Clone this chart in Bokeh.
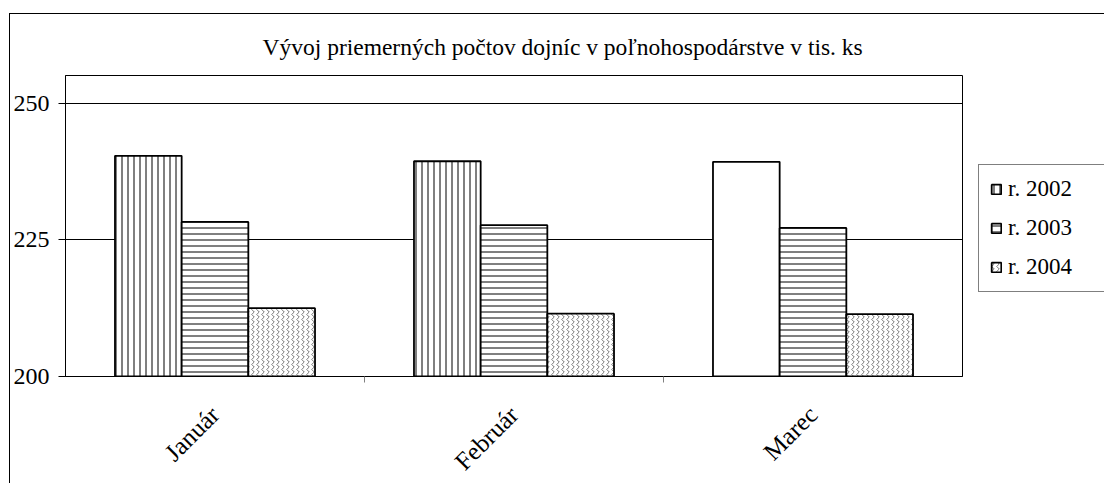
import math
from bokeh.plotting import figure
from bokeh.models import (ColumnDataSource, FactorRange, Range1d, LinearAxis, CategoricalAxis,
                          FixedTicker, Legend, LegendItem, Title)
from bokeh.transform import dodge
from bokeh.embed import file_html
from bokeh.resources import INLINE

months = ["Január", "Február", "Marec"]
series_names = ["r. 2002", "r. 2003", "r. 2004"]
v2002 = [240.4, 239.4, 239.3]
v2003 = [228.3, 227.7, 227.2]
v2004 = [212.5, 211.5, 211.4]
y_ticks = [200, 225, 250]
title_text = "Vývoj priemerných počtov dojníc v poľnohospodárstve v tis. ks"

# style: hatch per bar for r. 2002 (Marec drawn without pattern in the original)
hatch_2002 = ["|", "|", " "]

FONT = "Liberation Serif"

src = ColumnDataSource(dict(month=months, v2002=v2002, v2003=v2003, v2004=v2004,
                            h2002=hatch_2002))

p = figure(frame_width=897, frame_height=301, x_range=FactorRange(*months), y_range=Range1d(200, 255.1),
           output_backend="svg", toolbar_location=None, x_axis_location=None, y_axis_location=None,
           min_border_left=54, min_border_right=143, min_border_top=61, min_border_bottom=107)
p.margin = (13, 0, 0, 9)
p.styles = {"border-left": "1px solid black", "border-top": "1px solid black"}

p.outline_line_color = "black"
p.outline_line_width = 1
p.background_fill_color = "white"
p.border_fill_color = "white"

# grid
p.xgrid.grid_line_color = None
p.ygrid.grid_line_color = "black"
p.ygrid.ticker = FixedTicker(ticks=y_ticks[1:])

# y axis
yaxis = LinearAxis(ticker=FixedTicker(ticks=y_ticks))
yaxis.axis_line_color = "black"
yaxis.major_tick_line_color = "black"
yaxis.major_tick_in = 0
yaxis.major_tick_out = 7
yaxis.minor_tick_line_color = None
yaxis.major_label_text_font = FONT
yaxis.major_label_text_font_size = "24px"
yaxis.major_label_text_color = "black"
yaxis.major_label_standoff = 9
p.add_layout(yaxis, "left")

# tick axis with ticks at the boundaries between months
boundaries = [f"{a}|{b}" for a, b in zip(months[:-1], months[1:])]
p.extra_x_ranges = {"bounds": FactorRange(*boundaries, range_padding=0.5,
                                           range_padding_units="absolute")}
tick_axis = CategoricalAxis(x_range_name="bounds")
tick_axis.axis_line_color = "black"
tick_axis.major_tick_line_color = "#808080"
tick_axis.major_tick_in = 0
tick_axis.major_tick_out = 6
tick_axis.minor_tick_line_color = None
tick_axis.major_label_text_font_size = "0px"
tick_axis.major_label_standoff = 0
p.add_layout(tick_axis, "below")

xaxis = CategoricalAxis()
xaxis.axis_line_color = None
xaxis.major_tick_line_color = None
xaxis.minor_tick_line_color = None
xaxis.major_label_orientation = math.pi / 4
xaxis.major_label_text_font = FONT
xaxis.major_label_text_font_size = "25px"
xaxis.major_label_text_color = "black"
xaxis.major_label_standoff = 22
p.add_layout(xaxis, "below")

W = 0.223
r1 = p.vbar(x=dodge("month", -W, range=p.x_range), top="v2002", bottom=200, width=W, source=src,
            fill_color="white", line_color="black", line_width=1.8,
            hatch_pattern="h2002", hatch_color="black", hatch_scale=6, hatch_weight=1)
r2 = p.vbar(x=dodge("month", 0, range=p.x_range), top="v2003", bottom=200, width=W, source=src,
            fill_color="white", line_color="black", line_width=1.8,
            hatch_pattern="-", hatch_color="black", hatch_scale=6, hatch_weight=1)
r3 = p.vbar(x=dodge("month", W, range=p.x_range), top="v2004", bottom=200, width=W, source=src,
            fill_color="white", line_color="black", line_width=1.8,
            hatch_pattern="vertical_wave", hatch_color="#777777", hatch_scale=5, hatch_weight=1)

legend = Legend(items=[LegendItem(label=series_names[0], renderers=[r1], index=0),
                       LegendItem(label=series_names[1], renderers=[r2], index=0),
                       LegendItem(label=series_names[2], renderers=[r3], index=0)])
legend.location = (16, 84)
legend.label_text_font = FONT
legend.label_text_font_size = "23px"
legend.label_text_color = "black"
legend.glyph_width = 12
legend.glyph_height = 12
legend.label_height = 26
legend.label_width = 85
legend.spacing = 13
legend.padding = 11
legend.label_standoff = 6
legend.margin = 0
legend.border_line_color = "black"
legend.border_line_width = 1
legend.background_fill_alpha = 1
p.add_layout(legend, "right")

title = Title(text=title_text, align="left", offset=197, standoff=32,
              text_font=FONT, text_font_size="23.5px", text_font_style="normal",
              text_color="black")
p.add_layout(title, "above")

open("out.html", "w").write(file_html(p, INLINE))
